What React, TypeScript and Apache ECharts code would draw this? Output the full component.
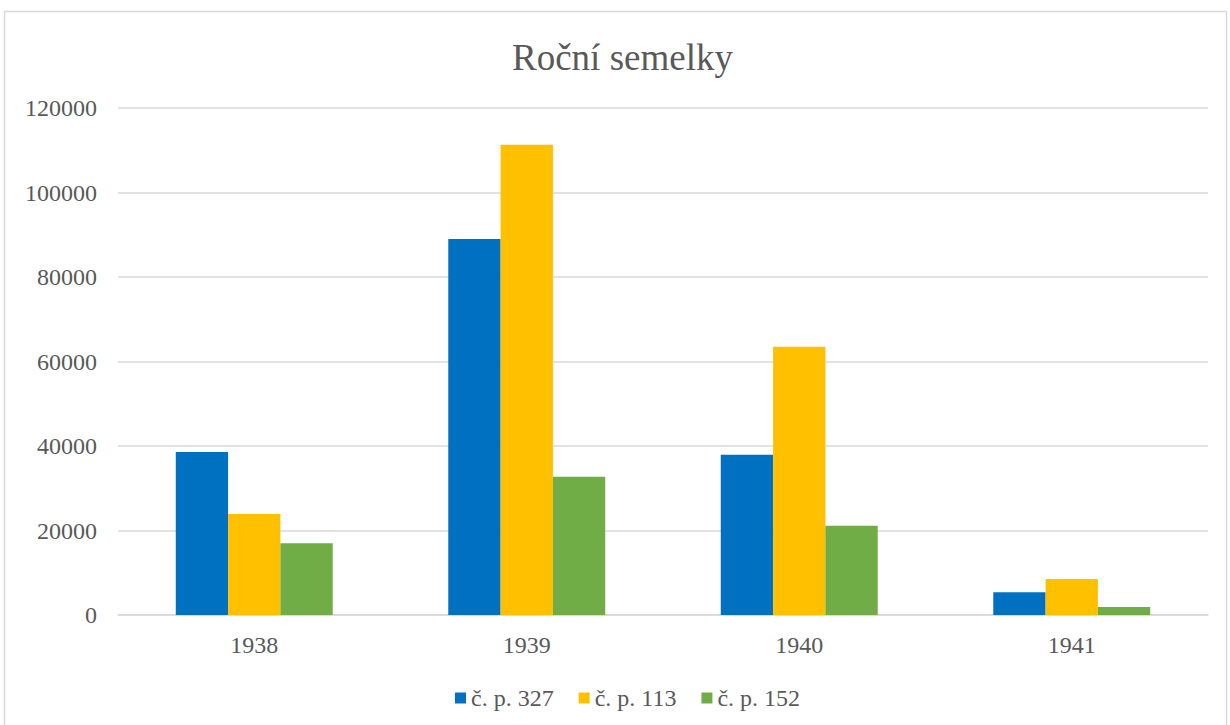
import React, { useEffect, useRef } from "react";
import * as echarts from "echarts";

const categories = ["1938", "1939", "1940", "1941"];
const seriesNames = ["č. p. 327", "č. p. 113", "č. p. 152"];
const cp327 = [38600, 89000, 37900, 5400];
const cp113 = [23900, 111300, 63500, 8500];
const cp152 = [17000, 32700, 21100, 1900];
const yTicks = { min: 0, max: 120000, interval: 20000 };
const colors = ["#0070C0", "#FFC000", "#70AD47"];

export default function App() {
  const ref = useRef<HTMLDivElement>(null);
  useEffect(() => {
    if (!ref.current) return;
    const chart = echarts.init(ref.current, null, { renderer: "svg" });
    const font = "Liberation Serif";
    const data = [cp327, cp113, cp152];
    chart.setOption({
      animation: false,
      backgroundColor: "#ffffff",
      textStyle: { fontFamily: font },
      title: {
        text: "Roční semelky",
        left: 507,
        top: 34,
        textStyle: { fontFamily: font, fontSize: 37, fontWeight: "normal", color: "#595959" },
      },
      graphic: [
        {
          type: "rect",
          shape: { x: 4.5, y: 11.5, width: 1222, height: 730 },
          style: { fill: "none", stroke: "#D9D9D9", lineWidth: 1.5 },
          silent: true,
        },
      ],
      legend: {
        bottom: 10,
        left: 450,
        itemWidth: 11,
        itemHeight: 11,
        itemGap: 25,
        icon: "rect",
        textStyle: { fontFamily: font, fontSize: 24, color: "#595959" },
        data: seriesNames,
      },
      grid: { left: 118, right: 22, top: 108, bottom: 110, containLabel: false },
      xAxis: {
        type: "category",
        data: categories,
        axisLine: { show: true, lineStyle: { color: "#D9D9D9", width: 1.5 } },
        axisTick: { show: false },
        axisLabel: { fontFamily: font, fontSize: 24, color: "#595959", margin: 18 },
      },
      yAxis: {
        type: "value",
        min: yTicks.min,
        max: yTicks.max,
        interval: yTicks.interval,
        axisLine: { show: false },
        axisTick: { show: false },
        splitLine: { lineStyle: { color: "#D9D9D9", width: 1.5 } },
        axisLabel: {
          fontFamily: font,
          fontSize: 24,
          color: "#595959",
          margin: 21,
          formatter: (v: number) => String(v),
        },
      },
      series: seriesNames.map((name, i) => ({
        name,
        type: "bar",
        data: data[i],
        barGap: "0%",
        barCategoryGap: "42.4%",
        itemStyle: { color: colors[i] },
      })),
    });
    return () => chart.dispose();
  }, []);
  return (
    <div
      ref={ref}
      style={{ position: "absolute", left: 0, top: 0, width: 1230, height: 725 }}
    />
  );
}
